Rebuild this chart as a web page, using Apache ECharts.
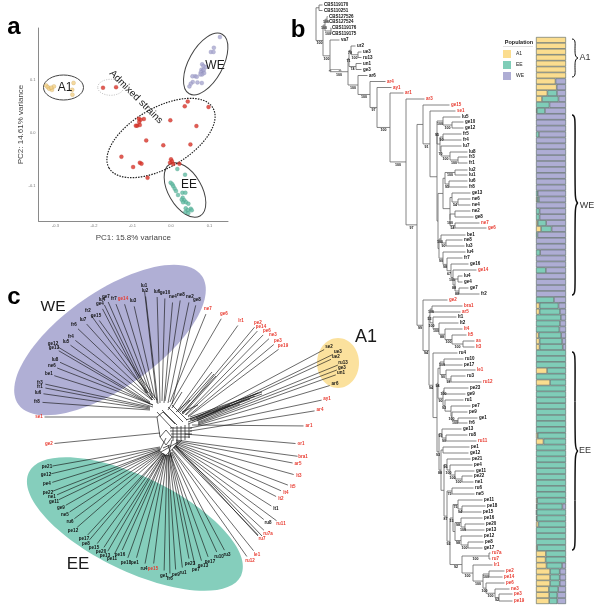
<!DOCTYPE html>
<html><head><meta charset="utf-8">
<style>html,body{margin:0;padding:0;background:#fff}#c{width:600px;height:615px}#c canvas{filter:blur(0.4px)}</style>
<script src="https://cdn.jsdelivr.net/npm/echarts@6/dist/echarts.min.js"></script>
</head><body><div id="c"></div>
<script>
/* ---------- panel a : PCA ---------- */
const pcaA1=[[-.324,.089],[-.32,.086],[-.316,.083],[-.309,.081],[-.304,.0875],[-.311,.085],[-.253,.094],[-.2565,.081],[-.256,.072]];
const pcaAdmixed=[[-.1765,.085],[-.1426,.086],[.0435,.059],[.0357,.05],[.0974,.0488],[-.0835,.0269],[-.0704,.0263],[-.079,.025],[-.0826,.0206],[-.0878,.0138],[-.0809,.015],[-.0913,.0138],[-.0017,.0238],[.066,.0131],[-.0643,-.0138],[-.02,-.0231],[.0504,-.0213],[-.1287,-.0444],[-.0983,-.0638],[-.0809,-.0556],[-.0765,-.0575],[-.0609,-.0838],[0,-.0494],[.0026,-.0531],[-.0026,-.0556],[.006,-.0581],[.0217,-.0575]];
const pcaWE=[[.127,.18],[.1113,.16],[.1035,.152],[.1104,.152],[.0809,.1288],[.0843,.1256],[.0626,.1063],[.067,.1056],[.0557,.1063],[.0791,.1188],[.0826,.1163],[.0852,.1188],[.0774,.1138],[.0861,.1125],[.0809,.11],[.0765,.11],[.0565,.0956],[.0513,.0925],[.0478,.0875],[.0687,.095],[.08,.0938],[.0904,.1238]];
const pcaEE=[[.0165,-.0675],[.0365,-.0781],[-.0009,-.0931],[.0035,-.0963],[.0061,-.1],[.0096,-.1044],[.013,-.1088],[.0183,-.1163],[.0296,-.1119],[.0374,-.1119],[.0304,-.1213],[.0278,-.125],[.0348,-.1263],[.0313,-.13],[.0391,-.13],[.0452,-.1325],[.0383,-.1413],[.0513,-.1419],[.0435,-.145],[.0539,-.145],[.0374,-.1481],[.0452,-.15]];
const pcaXTicks=[-.3,-.2,-.1,0,.1];
const pcaYTicks=[-.1,0,.1];

/* ---------- panel b : ancestry bars (one row per strain) ---------- */
const a1Share=[100,100,100,100,100,100,100, 65,69,38,20,0,3,
 0,0,0,0,0,0,0,0,0,0,0,0,0, 0,4,0,0,0,6,17,0,0,0,0,0,0,0,0,0,0,0,
 0,12,12,0,0,0,9,12,12,
 0,0,0,37,0,47,0,0,0,0,0,0,0,0,6,25,0,0,0,0,0,0,0,0,0,4,3,2,3,8,0,0,0,
 4,33,32,35,47,47,47,43,44,44];
const eeShare=[0,0,0,0,0,0,0, 0,0,32,55,45,27,
 0,0,0,10,0,0,0,0,0,0,0,0,0, 6,6,0,12,12,28,35,5,0,0,14,0,0,33,0,0,0,0,
 60,63,68,83,80,78,75,75,77,
 100,100,100,63,100,53,100,100,100,100,100,100,100,100,94,75,100,100,100,100,100,100,100,100,100,96,85,98,97,92,100,100,100,
 96,67,68,52,32,32,32,31,27,27];
const weShare=[0,0,0,0,0,0,0, 35,31,30,25,55,70,
 100,100,100,90,100,100,100,100,100,100,100,100,100, 94,90,100,88,88,66,48,95,100,100,86,100,100,67,100,100,100,100,
 40,25,20,17,20,22,16,13,11,
 0,0,0,0,0,0,0,0,0,0,0,0,0,0,0,0,0,0,0,0,0,0,0,0,0,0,12,0,0,0,0,0,0,
 0,0,0,13,21,21,21,26,29,29];
const barRows=a1Share.map((_,i)=>String(i));

/* ---------- panel b : tree leaves [name, label start, row position, red?] ---------- */
const treeLeaves=[['CBS119170',324,5],['CBS110251',324,10.5],['CBS127526',329,16.5],['CBS127524',329,22],['CBS119176',332,28],['CBS119175',332,34],['va7',341,40],['ur2',357,46],['ue3',363,52],['ru13',363,57.5],['un1',363,63.5],['ge3',363,69.5],['ar6',369,75.5],['ar4',387,81.5,1],['ay1',393,87.5,1],['ar1',405,93,1],['ar3',426,99,1],
['ge15',451,105,1],['se1',457,111,1],['lu5',462,117],['ge10',465,122],['ge12',465,128],['fr5',463,134],['fr4',463,140],['lu7',463,146],['lu8',469,152],['fr3',469,157],['fr1',469,163],['lu2',469,170],['lu1',469,175],['lu6',469,181],['fr8',469,187],['ge13',472,193],['ne6',472,199],['ne4',472,205],['ne2',472,211],['ge8',475,217],['ne7',481,223,1],['ge6',488,228,1],['be1',467,235],['ne8',464,240],['lu3',466,246],['lu4',467,252],['fr7',464,258],['ge16',470,264],['ge14',478,270,1],['lu4',464,276],['ge4',464,282],['ge7',470,288],['fr2',481,294],
['ge2',449,300,1],['bra1',464,306,1],['ar5',462,312,1],['lt1',458,317],['lt2',460,323],['lt4',464,329,1],['lt5',468,335,1],['as',476,341,1],['lt3',476,347,1],['ru4',459,353],['ru10',465,359],['pe17',464,365],['le1',477,370,1],['ru3',467,376],['ru12',483,382,1],['pe23',470,388],['ge9',467,394],['ru1',465,400],['pe7',472,406],['pe9',469,412],['ge1',479,418],['fr6',469,423],['ge13',463,429],['ru8',469,435],['ru11',478,441,1],['pe1',471,447],['ge12',470,453],['pe21',472,459],['pe4',474,465],['ge11',476,471],['pe22',474,476],['ne1',475,482],['ru6',475,488],['ne5',476,494],['pe11',484,500],['pe18',487,506],['pe15',483,512],['pe16',484,518],['pe20',486,524],['pe13',486,530],['pe12',484,536],['pe8',485,542],['ge17',484,548],['ru7a',492,553,1],['ru7',492,559,1],['lr1',494,565,1],['pe2',506,571,1],['pe14',504,577,1],['pe6',506,583,1],['ne3',511,589,1],['pe3',514,594,1],['pe19',514,601,1]];

/* tree topology: [node depth, support, ...children]; L takes the next leaf in order */
const L=0;
const topCbs=[323,'100',[325,'100',[327,'100',L,L],[331,'100',L,L]]];
const ancestry=[348,'100',[349,'71',[351,'78',L,[358,'100',L,L]],[356,'74',L,L]]];
const weA=[437,'95',[443,'100',L,[452,'100',L,L]],[440,'',[443,'90',L,L],[441,'70',L,[450,'100',L,[458,'100',L,L]]]]];
const weB=[443,'',[445,'',[455,'100',L,L],[449,'95',L,L]],[450,'',[452,'',L,[458,'54',L,L]],[450,'100',[455,'',L,L],[455,'54',L,L]]]];
const weC=[441,'100',L,[446,'90',L,L]];
const weD=[443,'90',L,[447,'98',L,[451,'67',L,[453,'100',L,[455,'88',[458,'',L,L],[459,'88',L,L]]]]]];
const weClade=[423,'',L,[430,'91',L,[437,'',weA,[438,'',weB,[439,'',weC,weD]]]]];
const eeTop=[430,'53',[432,'100',L,L],[433,'100',L,[439,'100',L,[445,'88',L,[452,'100',L,[463,'100',L,L]]]]]];
const eeF=[438,'94',[440,'',[444,'100',L,L],[446,'90',L,[451,'98',L,L]]],[443,'90',[444,'100',L,L],[445,'93',L,[451,'',L,[452,'100',L,[458,'100',L,L]]]]]];
const eeH2=[447,'96',L,[450,'100',L,[455,'100',L,[462,'100',L,L]]]];
const eeJ=[453,'15',[458,'75',L,[462,'94',L,L]],[455,'',[461,'98',L,[465,'100',L,L]],[461,'98',L,[468,'100',L,L]]]];
const eeTail=[462,'92',[489,'100',L,L],[473,'100',L,[483,'100',[489,'100',L,L],[486,'100',L,[495,'100',L,[499,'92',L,L]]]]]];
const eeG=[439,'93',[442,'93',L,[446,'90',L,L]],[441,'88',[443,'',L,L],[444,'',eeH2,[447,'87',[452,'75',L,L],[450,'92',eeJ,eeTail]]]]];
const eeClade=[423,'99',L,[429,'94',eeTop,[433,'94',L,[437,'',eeF,eeG]]]];
const spine=[358,'100',L,[370,'100',L,[377,'97',L,[390,'100',L,[406,'100',L,[417,'97',weClade,eeClade]]]]]];
ancestry.push(spine);
topCbs.push([330,'100',L,ancestry]);
const treeRoot=[316,'',[319,'',L,L],topCbs];

/* ---------- panel c : network tips [name, label x, label y, hub x, hub y, red?] ---------- */
const netWE=[['lu1',144,286,157,403],['lu2',145,291,158,404],['lu6',157,291.5,160,403],['ge10',165,293,162,401],['ne4',173,297,164,403],['ne8',181,295,165,401],['ne2',190,297,168,403],['ge8',197,300,172,404],['lu3',133,301,155,398],['ge14',123,299,153,398,1],['fr7',114,299,152,398],['ge7',106,297,148,393],['lu4',102,300,147,393],['ge4',100,304,146,393],['fr2',88,311,152,400],['ge15',96,316,157,400],['lu7',83,320,155,400],['fr6',74,325,153,400],['fr4',71,337,152,400],['lu5',66,342,150,402],['ge12',53,344,150,403],['ge13',54,348,150,404],['lu8',55,360,153,405],['ne6',52,366,153,405],['be1',49,374,153,407],['fr3',40,383,150,407],['fr1',40,387,150,408],['lu6',38,393,150,409],['fr8',37,402,150,410]];
const netEE=[['pe21',47,467,160,447],['ge12',46,475,160,448],['pe4',47,484,160,449],['pe22',48,493,160,450],['ne1',52,497,160,450],['ge11',54,502,160,451],['ge9',61,508,161,451],['ne5',65,515,161,452],['ru6',70,522,162,452],['pe12',73,531,162,453],['pe17',84,539,163,453],['pe8',86,544,163,453],['pe15',94,548,164,453],['pe20',101,552,164,454],['pe13',105,556,164,454],['pe11',112,559,165,454],['pe16',120,555,165,454],['pe18',126,563,165,455],['pe1',135,563,166,455],['ru4',144,569,166,455],['pe15',153,569,167,455,1],['ge1',164,576,167,455],['fr6',170,579,168,455],['pe9',176,575,168,455],['ru1',183,573,169,455],['pe23',190,564,169,454],['pe7',196,570,170,454],['ge13',203,566,170,453],['pe17',210,562,170,453],['ru10',219,557,171,452],['ru3',227,555,172,452]];
const netA1=[['se2',329,347,196,418],['ue3',338,352,197,420],['ue2',336,357,197,421],['ru13',343,363,198,422],['ge3',342,368,198,423],['un1',341,373,198,424],['ar6',335,384,198,425]];
const netRedFan=[['ne7',208,309,170,402,1],['ge6',224,314,168,410,1],['lr1',241,321,178,410,1],['pe2',258,323,182,414,1],['pe14',261,327,183,414,1],['pe6',267,331,185,415,1],['ne3',273,335,186,415,1],['pe3',278,341,188,416,1],['pe19',283,346,188,417,1],['ay1',327,399,190,428,1],['ar4',320,410,190,431,1],['ar1',309,426,192,425,1],['or1',301,444,185,434,1],['bra1',303,457,176,440,1],['ar5',298,464,176,441,1],['lt3',299,476,176,442,1],['lt5',293,487,176,443,1],['lt4',286,493,176,444,1],['lt2',281,499,175,445,1],['lt1',276,509,175,445],['ru8',268,523,174,446],['ru11',281,524,175,446,1],['ru7a',268,534,174,447,1],['ru7',262,539,173,447,1],['le1',257,555,172,449,1],['ru12',250,561,172,450,1],['se1',39,417,157,417,1],['ge2',49,444,160,433,1]];
/* splits in the central mesh [x1,y1,x2,y2] */
const netMesh=[[160,437,166,430],[166,430,172,437],[172,437,166,445],[166,445,160,437],[170,428,192,428],[170,431,192,431],[171,434,192,434],[172,437,190,437],[173,427,173,441],[177,426,177,441],[181,426,181,440],[185,425,185,440],[189,424,189,438],[157,412,172,428],[162,410,177,425],[168,407,183,422],[172,405,187,420],[160,437,157,417],[157,417,163,412],[163,412,175,424],[168,445,172,458],[163,448,170,445],[161,452,178,442],[165,456,182,440],[190,417,262,392],[190,420,262,394],[188,422,250,399],[188,424,240,404],[190,419,258,393],[192,421,255,396],[186,420,230,405],[182,412,198,405],[176,412,190,400],[172,408,182,392],[178,412,212,372],[180,412,214,374],[182,413,216,376],[166,438,160,450],[172,440,168,456],[176,446,262,536],[176,447,258,536]];

/* ---------- assembly (library scales place everything) ---------- */
let nextLeaf=0; const treeSegs=[], treeSupport=[], leafLabels=[];
function layout(node){
  if(node===L){const lf=treeLeaves[nextLeaf++];leafLabels.push(lf);return{x:lf[1]-1.5,y:lf[2],s:''};}
  const kids=node.slice(2).map(layout);
  const y=(kids[0].y+kids[kids.length-1].y)/2;
  treeSegs.push([node[0],kids[0].y,node[0],kids[kids.length-1].y]);
  kids.forEach(k=>{treeSegs.push([node[0],k.y,k.x,k.y]);
    if(k.s)treeSupport.push([(node[0]+k.x)/2,k.y+2.8,k.s]);});
  return{x:node[0],y,s:node[1]};
}
layout(treeRoot);
const netAll=netWE.concat(netEE,netA1,netRedFan);
const netSegs=netAll.map(r=>{const dx=r[3]-r[1],dy=r[4]-r[2],d=Math.hypot(dx,dy),o=Math.min(5.5,d/4);
  return [r[1]+dx/d*o,r[2]+dy/d*o,r[3],r[4]];});

const RED='#e8392e', FONT='"Liberation Sans",Arial,sans-serif';
function lineSeries(name,data,color,width,opacity){
  return {type:'custom',name,xAxisIndex:2,yAxisIndex:2,silent:true,clip:false,data,
    dimensions:['x1','y1','x2','y2'],encode:{x:[0,2],y:[1,3]},
    renderItem:(p,api)=>{const a=api.coord([api.value(0),api.value(1)]),b=api.coord([api.value(2),api.value(3)]);
      return{type:'line',shape:{x1:a[0],y1:a[1],x2:b[0],y2:b[1]},style:{stroke:color,lineWidth:width,opacity:opacity}};}};
}
function textSeries(name,rows,txt,opts){
  return {type:'custom',name,xAxisIndex:2,yAxisIndex:2,silent:true,clip:false,z:5,
    data:rows.map(r=>[opts.x(r),opts.y(r)]),encode:{x:0,y:1},
    renderItem:(p,api)=>{const a=api.coord([api.value(0),api.value(1)]),r=rows[p.dataIndex];
      return{type:'text',x:a[0],y:a[1],style:{text:txt(r),fontSize:opts.size,fontWeight:opts.weight||'normal',fontFamily:FONT,
        fill:r[opts.redIdx]?RED:(opts.color||'#111'),align:opts.align||'left',verticalAlign:'middle'}};}};
}
const ell=(cx,cy,rx,ry,deg,style)=>({type:'ellipse',x:cx,y:cy,rotation:deg*Math.PI/180,shape:{cx:0,cy:0,rx,ry},style,z:1,silent:true});
const txt=(x,y,text,size,extra)=>({type:'text',x,y,z:10,silent:true,rotation:(extra&&extra.rot)||0,
  style:{text,fontSize:size,fontFamily:FONT,fontWeight:(extra&&extra.weight)||'normal',fill:(extra&&extra.fill)||'#1a1a1a',align:'center',verticalAlign:'middle'}});
/* a curly brace: top end, tip, bottom end */
const brace=(x,top,tipY,bot,w)=>{
  const seg=(x1,y1,cpx1,cpy1,cpx2,cpy2,x2,y2)=>({type:'bezierCurve',z:10,silent:true,
    shape:{x1,y1,cpx1,cpy1,cpx2,cpy2,x2,y2},style:{fill:'none',stroke:'#111',lineWidth:w}});
  return [seg(x,top,x+4,top,x+3,top+5,x+3,(top+tipY)/2),seg(x+3,(top+tipY)/2,x+3,tipY-4,x+3,tipY-1,x+6,tipY),
          seg(x+6,tipY,x+3,tipY+1,x+3,tipY+4,x+3,(bot+tipY)/2),seg(x+3,(bot+tipY)/2,x+3,bot-5,x+4,bot,x,bot)];
};
const bar=(name,data,color)=>({type:'bar',name,xAxisIndex:1,yAxisIndex:1,stack:'ancestry',barCategoryGap:0,
  data:data.map(v=>v===0?null:v),itemStyle:{color,borderColor:'#53615f',borderWidth:0.6},silent:true});
const dots=(name,data,color,border)=>({type:'scatter',name,xAxisIndex:0,yAxisIndex:0,data,symbolSize:4,silent:true,
  itemStyle:{color,borderColor:border,borderWidth:0.3}});

const hidden={type:'value',show:false,splitLine:{show:false}};
const chart=echarts.init(document.getElementById('c'),null,{renderer:'canvas'});
chart.setOption({
  animation:false,backgroundColor:'#fff',textStyle:{fontFamily:FONT},
  legend:{data:['A1','EE','WE'],orient:'vertical',left:503,top:50,padding:0,itemWidth:8,itemHeight:8,itemGap:3,
    icon:'rect',itemStyle:{borderWidth:0},textStyle:{fontSize:5,color:'#222',fontFamily:FONT},selectedMode:false},
  grid:[{left:38.5,top:28,width:189.5,height:193},{left:536,top:37,width:30,height:567},{left:0,top:0,width:600,height:615}],
  xAxis:[
    {type:'value',gridIndex:0,min:-.344,max:.148,splitLine:{show:false},axisTick:{show:false},
     axisLine:{onZero:false,lineStyle:{color:'#8a8a8a',width:1}},
     axisLabel:{customValues:pcaXTicks,fontSize:4,color:'#777',margin:3,formatter:v=>v.toFixed(1)},
     name:'PC1: 15.8% variance',nameLocation:'middle',nameGap:13,nameTextStyle:{fontSize:8,color:'#444'}},
    {type:'value',gridIndex:1,min:0,max:100,show:false,splitLine:{show:false}},
    {...hidden,gridIndex:2,min:0,max:600}],
  yAxis:[
    {type:'value',gridIndex:0,min:-.165,max:.197,splitLine:{show:false},axisTick:{show:false},
     axisLine:{onZero:false,lineStyle:{color:'#8a8a8a',width:1}},
     axisLabel:{customValues:pcaYTicks,fontSize:4,color:'#777',margin:3,formatter:v=>v.toFixed(1)},
     name:'PC2: 14.61% variance',nameLocation:'middle',nameGap:14,nameTextStyle:{fontSize:8,color:'#444'}},
    {type:'category',gridIndex:1,data:barRows,inverse:true,show:false},
    {...hidden,gridIndex:2,min:0,max:615,inverse:true}],
  graphic:{elements:[
    ell(63.5,87.5,20,12.5,0,{fill:'none',stroke:'#444',lineWidth:1}),
    ell(205.7,64,34,17,61,{fill:'none',stroke:'#444',lineWidth:1}),
    ell(185,190,30,16.7,-60,{fill:'none',stroke:'#444',lineWidth:1}),
    ell(161,138,60,30,30,{fill:'none',stroke:'#222',lineWidth:1.2,lineDash:[1.5,1.2]}),
    ell(110.7,87.3,13,8,0,{fill:'none',stroke:'#bbb',lineWidth:.8,lineDash:[1.2,1.2]}),
    ell(110,340,112,48,35,{fill:'#b0afd5'}),
    ell(135,524,118,47,-26,{fill:'#85cebc'}),
    ell(338,363,21,25,0,{fill:'#fbe19d'}),
    txt(14,27,'a',24,{weight:'bold',fill:'#000'}),txt(298,30,'b',24,{weight:'bold',fill:'#000'}),txt(14,297,'c',24,{weight:'bold',fill:'#000'}),
    txt(65,88,'A1',12),txt(215,66,'WE',12),txt(189,185,'EE',12),
    txt(136,97,'Admixed strains',10,{rot:-Math.PI/4}),
    txt(53,307,'WE',15.5),txt(78,564,'EE',17),txt(366,337,'A1',18),
    txt(585,58,'A1',9,{fill:'#333'}),txt(587,206,'WE',9,{fill:'#333'}),txt(585,451,'EE',9,{fill:'#333'}),
    txt(519,42,'Population',5.5,{weight:'bold'}),
    {type:'line',shape:{x1:503,y1:46.5,x2:533,y2:46.5},z:10,silent:true,style:{stroke:'#ccc',lineWidth:.6}},
    {type:'line',shape:{x1:330,y1:69.5,x2:341,y2:69.5},z:10,silent:true,style:{stroke:'#555',lineWidth:.5}},
    txt(330,72,'**',4),txt(340,72,'**',4),
    ...brace(572,39,58,77,1),...brace(572,115,203,295,1.5),...brace(572,352,451,550,1.5)
  ]},
  series:[
    dots('A1 strains',pcaA1,'#f3cf86','#b8923e'),
    dots('Admixed strains',pcaAdmixed,'#d9352b','#b3261e'),
    dots('WE strains',pcaWE,'#a9a8d0','#7f7eb0'),
    dots('EE strains',pcaEE,'#62bba4','#3f917c'),
    bar('A1',a1Share,'#fbdd8f'),bar('EE',eeShare,'#7fcdb8'),bar('WE',weShare,'#aeadd4'),
    lineSeries('tree',treeSegs,'#666',.8,1),
    textSeries('tree tips',leafLabels,r=>r[0],{x:r=>r[1],y:r=>r[2],size:4.5,weight:'bold',redIdx:3}),
    textSeries('support',treeSupport,r=>r[2],{x:r=>r[0],y:r=>r[1],size:3.6,weight:'bold',align:'center',redIdx:9}),
    lineSeries('network',netSegs,'#111',.7,.9),
    lineSeries('network mesh',netMesh,'#111',.75,.9),
    textSeries('network tips',netAll,r=>r[0],{x:r=>r[1],y:r=>r[2],size:4.5,weight:'bold',align:'center',redIdx:5})
  ]
});
</script></body></html>
